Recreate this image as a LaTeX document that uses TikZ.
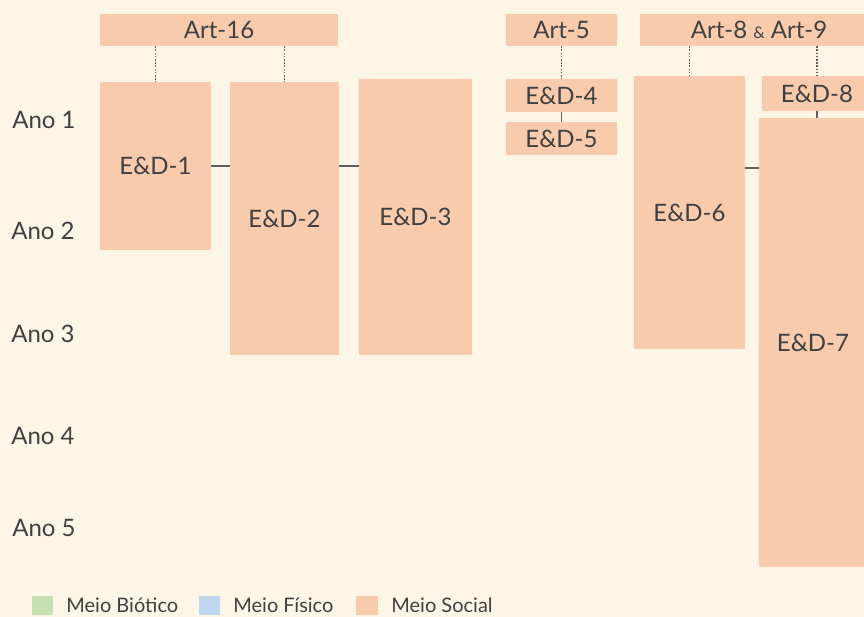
\documentclass[tikz,border=0pt]{standalone}
\usepackage{fontspec}
\setmainfont{Lato}
\usepackage{xcolor}
\usepackage{tikz}
\usetikzlibrary{calc,positioning}
\definecolor{bgcream}{HTML}{FDF6E7}
\definecolor{social}{HTML}{F8CBAD}
\definecolor{biotico}{HTML}{C5E0B4}
\definecolor{fisico}{HTML}{BDD7EE}
\definecolor{txtgray}{HTML}{404040}
\definecolor{linkgray}{HTML}{5F5F5F}
\tikzset{box/.style={rectangle,fill=social,inner sep=0pt,text=txtgray,font=\fontsize{24}{28}\selectfont},
         year/.style={text=txtgray,font=\fontsize{24}{28}\selectfont},
         link/.style={linkgray,line width=1.4pt},
         dots/.style={linkgray,line width=1.6pt,dash pattern=on 1.6pt off 1.6pt},
         legtext/.style={text=txtgray,anchor=west,inner sep=0pt,font=\fontsize{20}{22}\selectfont}}

\begin{document}
\begin{tikzpicture}[x=1pt,y=-1pt]
            \useasboundingbox (0,0) rectangle (864,617);
            \clip (0,0) rectangle (864,617);
            \fill[bgcream] (0,0) rectangle (864,617);
            % anos
            \node[year] (ano1) at (44,120) {Ano 1};
            \node[year] (ano2) at (43,231) {Ano 2};
            \node[year] (ano3) at (43,334) {Ano 3};
            \node[year] (ano4) at (43,436) {Ano 4};
            \node[year] (ano5) at (44,528) {Ano 5};
            % artigos
            \node[box,minimum width=238,minimum height=32] (art16) at (219,30) {Art-16};
            \node[box,minimum width=111,minimum height=32] (art5) at (561.5,30) {Art-5};
            \node[box,minimum width=238,minimum height=32] (art89) at (759,30) {Art-8 {\fontsize{16}{18}\selectfont\&} Art-9};
            % estudos
            \node[box,minimum width=111,minimum height=168] (ed1) at (155.5,166) {E\&D-1};
            \node[box,minimum width=109,minimum height=273] (ed2) at (284.5,218.5) {E\&D-2};
            \node[box,minimum width=113,minimum height=276] (ed3) at (415.5,217) {E\&D-3};
            \node[box,minimum width=111,minimum height=33] (ed4) at (561.5,95.5) {E\&D-4};
            \node[box,minimum width=111,minimum height=33] (ed5) at (561.5,138.5) {E\&D-5};
            \node[box,minimum width=111,minimum height=273] (ed6) at (689.5,212.5) {E\&D-6};
            \node[box,minimum width=110,minimum height=35] (ed8) at (817,93.5) {E\&D-8};
            \node[box,minimum width=108,minimum height=449] (ed7) at (813,342.5) {E\&D-7};
            % ligacoes
            \draw[dots] (ed1.north |- art16.south) -- (ed1.north);
            \draw[dots] (ed2.north |- art16.south) -- (ed2.north);
            \draw[dots] (art5.south) -- (ed4.north);
            \draw[dots] (ed6.north |- art89.south) -- (ed6.north);
            \draw[dots] (ed8.north |- art89.south) -- (ed8.north);
            \draw[link] (ed4.south) -- (ed5.north);
            \draw[link] (ed8.south) -- (ed8.south |- ed7.north);
            \draw[link] (ed1.east) -- (ed1.east -| ed2.west);
            \draw[link] (ed1.east -| ed2.east) -- (ed1.east -| ed3.west);
            \draw[link] (ed6.east |- 0,168) -- (ed7.west |- 0,168);
            % legenda
            \node[fill=biotico,minimum width=21,minimum height=19,inner sep=0pt] (legbio) at (42.5,605.5) {};
            \node[legtext,right=13pt of legbio] (txtbio) {Meio Biótico};
            \node[fill=fisico,minimum width=21,minimum height=19,inner sep=0pt] (legfis) at (209.5,605.5) {};
            \node[legtext,right=13pt of legfis] (txtfis) {Meio Físico};
            \node[fill=social,minimum width=22,minimum height=19,inner sep=0pt] (legsoc) at (367,605.5) {};
            \node[legtext,right=13pt of legsoc] (txtsoc) {Meio Social};
        \end{tikzpicture}
\end{document}
